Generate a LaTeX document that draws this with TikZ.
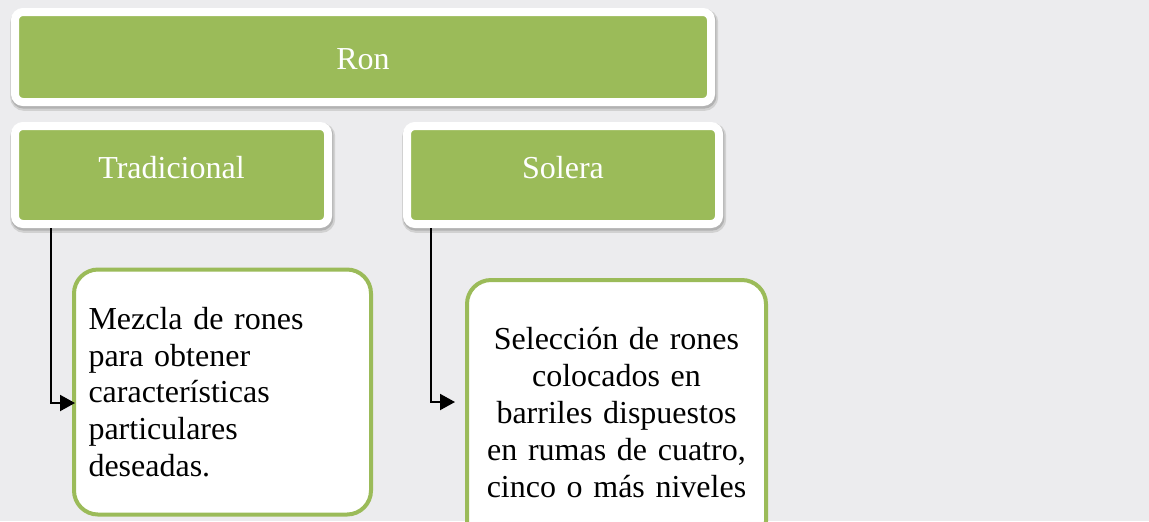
\documentclass[tikz,border=0pt]{standalone}
\usepackage{fontspec}
\setmainfont{Liberation Serif}
\usetikzlibrary{arrows.meta,positioning,calc}
\definecolor{verde}{HTML}{9BBB59}
\definecolor{fondo}{HTML}{ECECEE}
\tikzset{
  caja/.style={draw=white,line width=4pt,fill=verde,rounded corners=4pt,text=white,
               font=\fontsize{16}{18.4}\selectfont,
               preaction={draw=black!18,line width=6pt,transform canvas={xshift=0.6pt,yshift=-1.4pt}},
               preaction={draw=black!30,line width=4.6pt,transform canvas={xshift=0.4pt,yshift=-1pt}}},
  nota/.style={draw=verde,line width=2pt,fill=white,rounded corners=12pt,
               font=\fontsize{16}{18.4}\selectfont,text width=134pt},
  flecha/.style={-{Triangle[length=7.5pt,width=8pt]},line width=1pt,black},
}
\begin{document}
\begin{tikzpicture}[x=0.5pt,y=-0.5pt]
  \fill[fondo] (0,0) rectangle (1149,521);
  \useasboundingbox (0,0) rectangle (1149,521);
  \node[caja,minimum width=348pt,minimum height=45pt,text height=13pt] (ron) at (363,57) {Ron};
  \node[caja,minimum width=156.5pt,minimum height=49pt,text depth=8pt] (trad) at (171.5,175) {Tradicional};
  \node[caja,minimum width=156pt,minimum height=49pt,text depth=8pt] (sol) at (563,175) {Solera};
  \node[nota,align=left,minimum width=148.5pt,minimum height=122.5pt] (mez) at (222.5,392)
    {Mezcla de rones\\para obtener\\características\\particulares\\deseadas.};
  \node[nota,align=center,minimum width=149.5pt,minimum height=132.5pt] (sel) at (616.5,412.5)
    {Selección de rones\\colocados en\\barriles dispuestos\\en rumas de cuatro,\\cinco o más niveles};
  \draw[flecha] ($(trad.south west)+(40,0)$) |- ($(mez.west)+(3,11)$);
  \draw[flecha] ($(sol.south west)+(28,0)$) |- ($(sel.west)+(-10,-10.5)$);
\end{tikzpicture}
\end{document}
